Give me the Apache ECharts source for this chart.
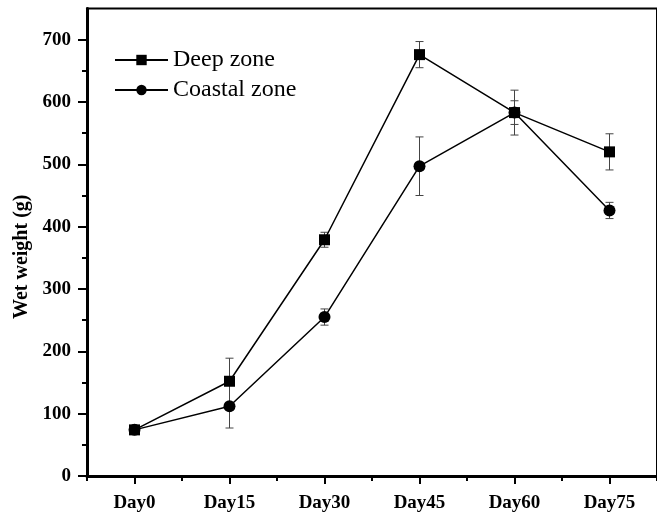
<!DOCTYPE html>
<html>
<head>
<meta charset="utf-8">
<script src="https://cdn.jsdelivr.net/npm/echarts@6/dist/echarts.min.js"></script>
<style>
  html, body { margin: 0; padding: 0; background: #fff; }
  #chart { width: 657px; height: 513px; }
</style>
</head>
<body>
<div id="chart"></div>
<script>
// Sampling days
const days = ['Day0', 'Day15', 'Day30', 'Day45', 'Day60', 'Day75'];

// Mean wet weight (g) and standard deviation per zone
const deepZone = [74, 152, 379, 676, 583, 520];
const deepZoneErr = [3, 37, 12, 21, 19, 29];
const coastalZone = [74, 112, 255, 497, 583, 426];
const coastalZoneErr = [3, 35, 13, 47, 36, 13];

// Y-axis ticks
const yMajorTicks = [0, 100, 200, 300, 400, 500, 600, 700];
const yMinorTicks = [50, 150, 250, 350, 450, 550, 650];

const FONT = 'Liberation Serif';

function errorRows(values, errs) {
  return values.map((v, i) => [i, v - errs[i], v + errs[i]]);
}

function renderErrorBar(params, api) {
  const x = api.value(0);
  const lo = api.coord([x, api.value(1)]);
  const hi = api.coord([x, api.value(2)]);
  const half = 4;
  const style = { stroke: '#444', lineWidth: 1 };
  return {
    type: 'group',
    children: [
      { type: 'line', shape: { x1: lo[0], y1: lo[1], x2: hi[0], y2: hi[1] }, style },
      { type: 'line', shape: { x1: hi[0] - half, y1: hi[1], x2: hi[0] + half, y2: hi[1] }, style },
      { type: 'line', shape: { x1: lo[0] - half, y1: lo[1], x2: lo[0] + half, y2: lo[1] }, style }
    ]
  };
}

const chart = echarts.init(document.getElementById('chart'), null, { renderer: 'canvas' });

chart.setOption({
  animation: false,
  backgroundColor: '#fff',
  grid: {
    left: 87, top: 8.5, right: -10, bottom: 36.3,
    show: true, borderColor: '#000', borderWidth: 2
  },
  legend: {
    orient: 'vertical',
    left: 114, top: 48,
    padding: 0,
    itemWidth: 53, itemHeight: 13, itemGap: 6,
    textStyle: { fontFamily: FONT, fontSize: 24, color: '#000' },
    data: ['Deep zone', 'Coastal zone']
  },
  xAxis: [
    {
      type: 'category',
      data: days,
      boundaryGap: true,
      axisLine: { lineStyle: { color: '#000', width: 3 } },
      axisTick: { show: true, length: 5, lineStyle: { color: '#000', width: 2 } },
      axisLabel: { fontFamily: FONT, fontWeight: 'bold', fontSize: 19, color: '#000', margin: 18 },
      splitLine: { show: false }
    },
    {
      type: 'category',
      data: days,
      position: 'bottom',
      boundaryGap: true,
      axisLine: { show: false },
      axisTick: { show: true, alignWithLabel: true, length: 8, lineStyle: { color: '#000', width: 2 } },
      axisLabel: { show: false },
      splitLine: { show: false }
    }
  ],
  yAxis: [
    {
      type: 'value',
      min: 0, max: 750,
      name: 'Wet weight (g)',
      nameLocation: 'middle',
      nameGap: 48,
      nameTextStyle: { fontFamily: FONT, fontWeight: 'bold', fontSize: 20, color: '#000', padding: [0, 29, 0, 0] },
      axisLine: { show: true, lineStyle: { color: '#000', width: 3 } },
      axisTick: { show: true, length: 9, customValues: yMajorTicks, lineStyle: { color: '#000', width: 2 } },
      axisLabel: { fontFamily: FONT, fontWeight: 'bold', fontSize: 19, color: '#000', margin: 16, customValues: yMajorTicks },
      splitLine: { show: false }
    },
    {
      type: 'value',
      min: 0, max: 750,
      position: 'left',
      axisLine: { show: false },
      axisTick: { show: true, length: 5, customValues: yMinorTicks, lineStyle: { color: '#000', width: 2 } },
      axisLabel: { show: false },
      splitLine: { show: false }
    }
  ],
  series: [
    {
      type: 'custom',
      name: 'deepErr',
      renderItem: renderErrorBar,
      data: errorRows(deepZone, deepZoneErr),
      encode: { x: 0, y: [1, 2] },
      z: 1
    },
    {
      type: 'custom',
      name: 'coastalErr',
      renderItem: renderErrorBar,
      data: errorRows(coastalZone, coastalZoneErr),
      encode: { x: 0, y: [1, 2] },
      z: 1
    },
    {
      name: 'Deep zone',
      type: 'line',
      data: deepZone,
      symbol: 'rect',
      symbolSize: 11,
      itemStyle: { color: '#000' },
      lineStyle: { color: '#000', width: 1.5 },
      z: 3
    },
    {
      name: 'Coastal zone',
      type: 'line',
      data: coastalZone,
      symbol: 'circle',
      symbolSize: 12,
      itemStyle: { color: '#000' },
      lineStyle: { color: '#000', width: 1.5 },
      z: 3
    }
  ]
});
</script>
</body>
</html>
